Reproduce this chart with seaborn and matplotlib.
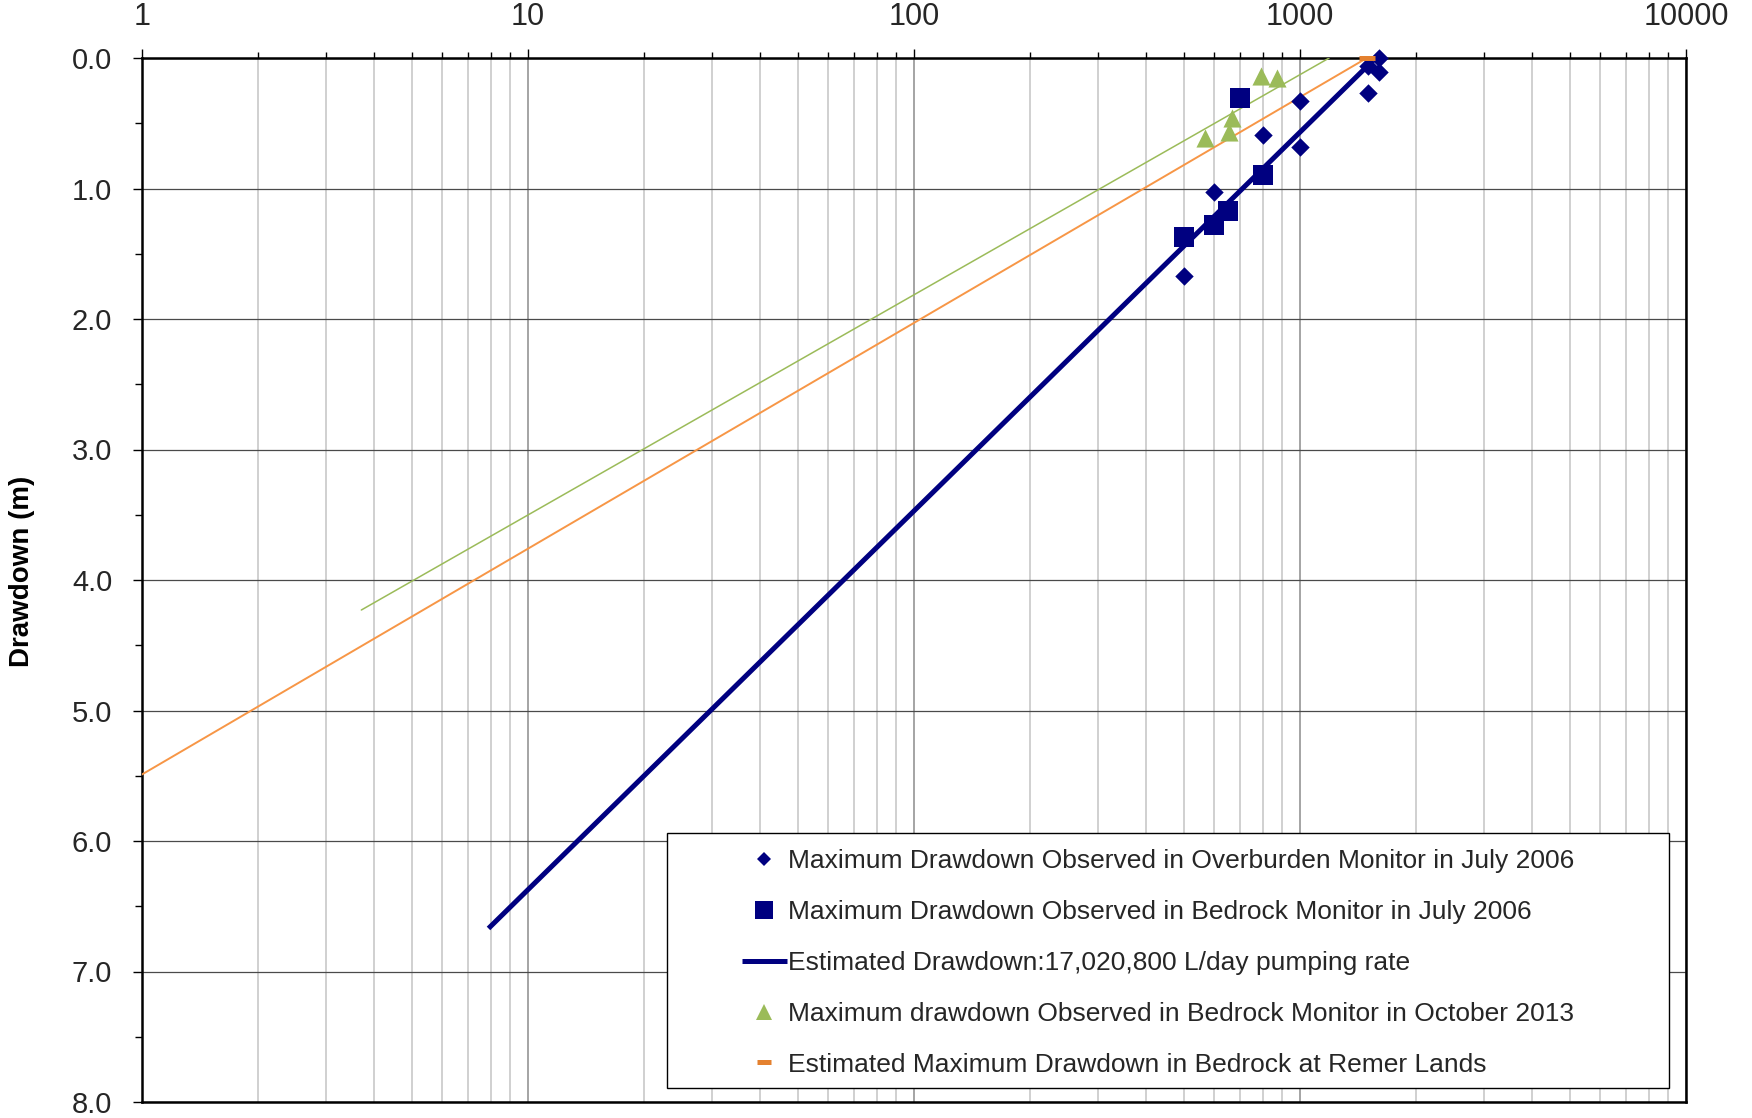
import numpy as np
import pandas as pd
import seaborn as sns
import matplotlib.pyplot as plt
from matplotlib.ticker import LogLocator, NullFormatter, MultipleLocator, FuncFormatter, FixedLocator
from matplotlib.lines import Line2D
from matplotlib.patches import Rectangle

# Observed drawdowns (distance in m, drawdown in m)
overburden_2006_dist = [1600, 1600, 1500, 1500, 1000, 800, 1000, 600, 500]
overburden_2006_dd = [0.0, 0.11, 0.06, 0.27, 0.33, 0.59, 0.68, 1.03, 1.67]

bedrock_2006_dist = [700, 800, 650, 600, 500]
bedrock_2006_dd = [0.31, 0.90, 1.17, 1.28, 1.37]

bedrock_2013_dist = [793, 870, 666, 656, 569]
bedrock_2013_dd = [0.14, 0.15, 0.46, 0.57, 0.61]

# Estimated drawdown lines
estimated_dist = [7.9, 1545]
estimated_dd = [6.67, 0.02]

trend_2013_dist = [3.7, 1190]
trend_2013_dd = [4.23, 0.0]

remer_dist = [1.0, 1490]
remer_dd = [5.49, 0.0]

remer_point_dist = [1490]
remer_point_dd = [0.0]

x_ticks = [1, 10, 100, 1000, 10000]
y_ticks = [0, 1, 2, 3, 4, 5, 6, 7, 8]

labels = [
    "Maximum Drawdown Observed in Overburden Monitor in July 2006",
    "Maximum Drawdown Observed in Bedrock Monitor in July 2006",
    "Estimated Drawdown:17,020,800 L/day pumping rate",
    "Maximum drawdown Observed in Bedrock Monitor in October 2013",
    "Estimated Maximum Drawdown in Bedrock at Remer Lands",
]

NAVY = "#000080"
GREEN = "#9BBB59"
ORANGE = "#F79646"
ORANGE_DARK = "#E4812F"

sns.set_theme(style="white")
plt.rcParams["font.family"] = ["Liberation Sans", "DejaVu Sans"]

W, H = 1752, 1118
fig = plt.figure(figsize=(W / 100, H / 100), dpi=100)
L, R, T, B = 142, 1686, 58, 1102
ax = fig.add_axes([L / W, 1 - B / H, (R - L) / W, (B - T) / H])

ax.set_xscale("log")
ax.set_xlim(1, 10000)
ax.set_ylim(8, 0)

# Lines
sns.lineplot(x=remer_dist, y=remer_dd, ax=ax, color=ORANGE, lw=1.4,
             sort=False, estimator=None, legend=False, zorder=3)
sns.lineplot(x=trend_2013_dist, y=trend_2013_dd, ax=ax, color=GREEN, lw=1.1,
             sort=False, estimator=None, legend=False, zorder=3)
sns.lineplot(x=estimated_dist, y=estimated_dd, ax=ax, color=NAVY, lw=3.6,
             sort=False, estimator=None, legend=False, zorder=4,
             solid_capstyle="butt")

# Markers
sns.scatterplot(x=overburden_2006_dist, y=overburden_2006_dd, ax=ax, marker="D",
                s=88, color=NAVY, linewidth=0, legend=False, zorder=5, clip_on=False)
sns.scatterplot(x=bedrock_2006_dist, y=bedrock_2006_dd, ax=ax, marker="s",
                s=190, color=NAVY, linewidth=0, legend=False, zorder=5, clip_on=False)
sns.scatterplot(x=bedrock_2013_dist, y=bedrock_2013_dd, ax=ax, marker="^",
                s=170, color=GREEN, linewidth=0, legend=False, zorder=5, clip_on=False)
ax.plot(remer_point_dist, remer_point_dd, linestyle="none", marker="_", ms=12,
        mew=3.6, color=ORANGE_DARK, zorder=6, clip_on=False)

# Axes styling
ax.xaxis.tick_top()
ax.xaxis.set_major_locator(FixedLocator(x_ticks))
ax.xaxis.set_major_formatter(FuncFormatter(lambda v, p: f"{int(round(v))}"))
ax.xaxis.set_minor_locator(LogLocator(base=10, subs=np.arange(2, 10), numticks=20))
ax.xaxis.set_minor_formatter(NullFormatter())
ax.yaxis.set_major_locator(FixedLocator(y_ticks))
ax.yaxis.set_major_formatter(FuncFormatter(lambda v, p: f"{v:.1f}"))
ax.yaxis.set_minor_locator(MultipleLocator(0.5))

ax.tick_params(axis="x", which="major", direction="out", length=6.5, width=1.0,
               color="black", labelsize=22, pad=12, top=True, bottom=False,
               labeltop=True, labelbottom=False)
ax.tick_params(axis="x", which="minor", direction="out", length=4.3, width=1.0,
               color="black", top=True, bottom=False)
ax.tick_params(axis="y", which="major", direction="out", length=6.5, width=1.0,
               color="black", labelsize=21, pad=15, left=True, right=False)
ax.tick_params(axis="y", which="minor", direction="out", length=5, width=1.0,
               color="black", left=True, right=False)

ax.grid(True, which="major", axis="x", color="#8c8c8c", lw=1.1)
ax.grid(True, which="minor", axis="x", color="#c4c4c4", lw=1.1)
ax.grid(True, which="major", axis="y", color="#4a4a4a", lw=0.9)
ax.set_axisbelow(True)

for side in ["left", "right", "top", "bottom"]:
    ax.spines[side].set_visible(True)
    ax.spines[side].set_color("black")
    ax.spines[side].set_linewidth(1.8)

ax.set_ylabel("Drawdown (m)", fontsize=20, fontweight="bold", color="black")
ax.yaxis.set_label_coords((22 - L) / (R - L), (B - 571) / (B - T))
ax.yaxis.label.set_verticalalignment("center")

# Legend box
bx0, by0, bx1, by1 = 667, 833, 1669, 1088
ax.add_patch(Rectangle(((bx0 - L) / (R - L), (B - by1) / (B - T)),
                       (bx1 - bx0) / (R - L), (by1 - by0) / (B - T),
                       transform=ax.transAxes, facecolor="white",
                       edgecolor="black", lw=1.0, zorder=7))

handles = [
    Line2D([], [], linestyle="none", marker="D", ms=7.5, color=NAVY, mew=0),
    Line2D([], [], linestyle="none", marker="s", ms=13, color=NAVY, mew=0),
    Line2D([], [], color=NAVY, lw=3.6, solid_capstyle="butt"),
    Line2D([], [], linestyle="none", marker="^", ms=11.5, color=GREEN, mew=0),
    Line2D([], [], linestyle="none", marker="_", ms=10, mew=3.6, color=ORANGE_DARK),
]
leg = ax.legend(handles, labels, loc="upper left",
                bbox_to_anchor=((742 - L) / (R - L), (B - 849) / (B - T)),
                frameon=False, fontsize=19, handlelength=1.7, handletextpad=0.05,
                labelspacing=1.02, borderpad=0, borderaxespad=0)
leg.set_zorder(8)

fig.savefig("out.png", dpi=100, facecolor="white")
